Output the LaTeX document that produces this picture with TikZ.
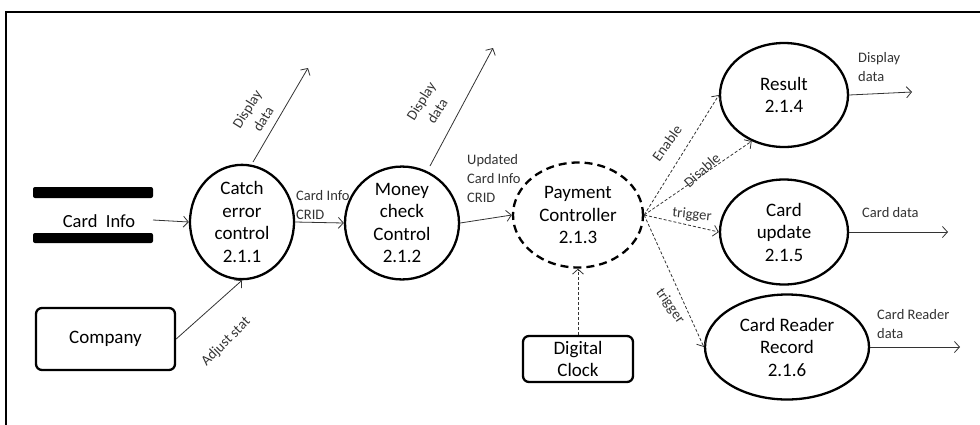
\documentclass[tikz,border=0pt]{standalone}
\usepackage{fontspec}
\setmainfont{Carlito}
\usetikzlibrary{shapes.geometric,arrows.meta}
\begin{document}
\begin{tikzpicture}[x=1pt,y=-1pt,
  proc/.style={ellipse,draw,line width=2.3pt,inner sep=0pt,align=center,font=\fontsize{19}{22.5}\selectfont},
  ctrl/.style={ellipse,draw,line width=2.3pt,dash pattern=on 8pt off 5pt,inner sep=0pt,align=center,font=\fontsize{19}{22.5}\selectfont},
  ent/.style={draw,line width=2.3pt,rounded corners=6pt,align=center,font=\fontsize{19}{22}\selectfont,inner sep=0pt},
  flow/.style={-{Straight Barb[length=5pt,width=11pt]},line width=0.8pt,draw=black!80},
  dflow/.style={flow,dash pattern=on 3pt off 2pt},
  lab/.style={font=\fontsize{14.5}{19}\selectfont,text=black!80,align=left,inner sep=0pt},
  bar/.style={fill=black,rounded corners=2pt}]
\useasboundingbox (0,0) rectangle (980,424);
\draw[line width=1.6pt] (6,430) -- (6,12) -- (990,12);
% data store
\fill[bar] (33,187) rectangle (153,198);
\fill[bar] (33,233) rectangle (153,243);
\node[font=\fontsize{18.5}{20}\selectfont] (store) at (99,221) {Card\ \ Info};
\coordinate (storeR) at (153,220);
% processes
\node[proc,minimum width=104pt,minimum height=105pt] (p1) at (242,222) {Catch\\error\\control\\2.1.1};
\node[proc,minimum width=114pt,minimum height=107pt] (p2) at (402,223) {Money\\check\\Control\\2.1.2};
\node[ctrl,minimum width=130pt,minimum height=105pt] (pc) at (578,215) {Payment\\Controller\\2.1.3};
\node[proc,minimum width=128pt,minimum height=104pt] (r) at (784,95) {Result\\2.1.4};
\node[proc,minimum width=128pt,minimum height=105pt] (cu) at (784,232) {Card\\update\\2.1.5};
\node[proc,minimum width=164pt,minimum height=105pt] (cr) at (787,347) {Card Reader\\Record\\2.1.6};
\node[ent,minimum width=139pt,minimum height=62pt] (comp) at (105.5,339) {Company};
\node[ent,minimum width=110pt,minimum height=46pt] (clock) at (578,359) {Digital\\Clock};
% free ends
\coordinate (s1) at (253,162);
\coordinate (s2) at (430,166);
\coordinate (d1) at (308,68);
\coordinate (d2) at (493,48);
\coordinate (o1) at (912,92);
\coordinate (o2) at (948,232);
\coordinate (o3) at (960,347);
% flows
\draw[flow] (storeR) -- (p1.west);
\draw[flow] (comp.east) -- (p1.south);
\draw[flow] (s1) -- (d1);
\draw[flow] (p1.east) -- (p2.west);
\draw[flow] (s2) -- (d2);
\draw[flow] (p2.east) -- (pc.west);
\draw[dflow] (clock.north) -- (pc.south);
\draw[dflow] (pc.east) -- (r.west);
\draw[dflow] (pc.east) -- (r.235);
\draw[dflow] (pc.east) -- (cu.west);
\draw[dflow] (pc.east) -- (cr.west);
\draw[flow] (r.east) -- (o1);
\draw[flow] (cu.east) -- (o2);
\draw[flow] (cr.east) -- (o3);
% labels
\node[lab,rotate=45] (l1) at (226,342) {Adjust stat};
\node[lab,rotate=58,align=center] (l2) at (255,114) {Display\\data};
\node[lab,rotate=58,align=center] (l3) at (429,106) {Display\\data};
\node[lab,anchor=west] (l4) at (296,205) {Card Info\\CRID};
\node[lab,anchor=west] (l5) at (467,179) {Updated\\Card Info\\CRID};
\node[lab,rotate=54] (l6) at (667,143) {Enable};
\node[lab,rotate=42] (l7) at (702,170) {Disable};
\node[lab,rotate=-6] (l8) at (692,215) {trigger};
\node[lab,rotate=-55] (l9) at (670,306) {trigger};
\node[lab,anchor=west] (l10) at (858,67) {Display\\data};
\node[lab,anchor=west] (l11) at (862,213) {Card data};
\node[lab,anchor=west] (l12) at (877,324) {Card Reader\\data};
\end{tikzpicture}
\end{document}
